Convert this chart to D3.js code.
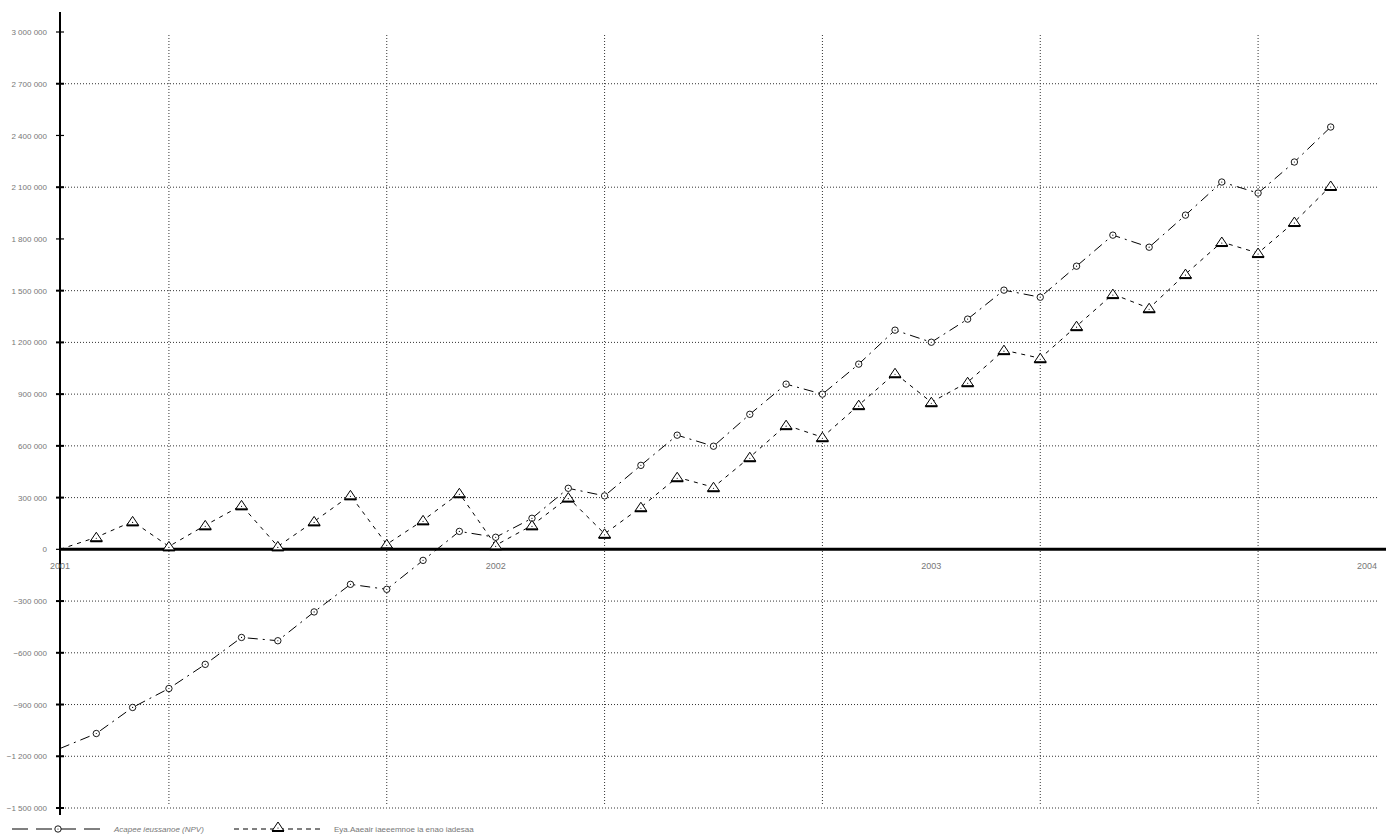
<!DOCTYPE html>
<html><head><meta charset="utf-8">
<script src="https://cdn.jsdelivr.net/npm/d3@7/dist/d3.min.js"></script>
<style>
body{margin:0;background:#fff;}
svg{display:block;}
text{font-family:"Liberation Sans Narrow","Liberation Sans",Arial,sans-serif;}
</style></head><body>
<svg id="c" width="1396" height="840"></svg>
<script>
// month index 0..35 (Jan 2001 .. Dec 2003)
const months = d3.range(36);
const seriesNames = ["Acapee ieussanoe (NPV)", "Eya.Aaeair iaeeemnoe ia enao iadesaa"];
const npv = [-1155000,-1068000,-917000,-807000,-667000,-511000,-530000,-363000,-203000,-232000,-64000,104000,
  70000,180000,354000,310000,487000,662000,598000,783000,958000,900000,1074000,1271000,
  1201000,1335000,1503000,1462000,1642000,1822000,1752000,1938000,2130000,2066000,2246000,2449000];
const equity = [0,70000,162000,17000,139000,255000,17000,162000,313000,29000,168000,325000,
  23000,139000,300000,90000,244000,418000,360000,534000,720000,650000,836000,1021000,
  853000,969000,1155000,1108000,1294000,1480000,1398000,1596000,1782000,1718000,1898000,2107000];
const yTicks = [3000000,2700000,2400000,2100000,1800000,1500000,1200000,900000,600000,300000,0,-300000,-600000,-900000,-1200000,-1500000];
const yGridTicks = [2700000,2100000,1500000,1200000,900000,600000,300000,-300000,-600000,-900000,-1200000,-1500000];
const xLabelTicks = [0,12,24,36];
const xLabels = ["2001","2002","2003","2004"];
const xGridTicks = [3,9,15,21,27,33];

const svg = d3.select("#c");
const x = d3.scaleLinear().domain([0,36]).range([60,1367]);
const y = d3.scaleLinear().domain([-1500000,3000000]).range([808,32]);
const fmt = v => d3.format(",")(v).replace(/,/g," ").replace("-","–");

// grid
svg.append("g").selectAll("line").data(yGridTicks).join("line")
  .attr("x1",62).attr("x2",1378).attr("y1",d=>y(d)).attr("y2",d=>y(d))
  .attr("stroke","#333").attr("stroke-width",1).attr("stroke-dasharray","1,2");
svg.append("g").selectAll("line").data(xGridTicks).join("line")
  .attr("x1",d=>x(d)).attr("x2",d=>x(d)).attr("y1",35).attr("y2",806)
  .attr("stroke","#333").attr("stroke-width",1).attr("stroke-dasharray","1,2");

// y axis
const yAxis = d3.axisLeft(y).tickValues(yTicks).tickSize(0).tickFormat(fmt);
const ga = svg.append("g").attr("transform","translate(60,0)").call(yAxis);
ga.select(".domain").remove();
ga.selectAll("text").attr("x",-13).attr("fill","#777").attr("font-size",8);
svg.append("line").attr("x1",60).attr("x2",60).attr("y1",12).attr("y2",815).attr("stroke","#000").attr("stroke-width",2);
svg.append("g").selectAll("line").data(yTicks).join("line")
  .attr("x1",56).attr("x2",64).attr("y1",d=>y(d)).attr("y2",d=>y(d))
  .attr("stroke","#000").attr("stroke-width",d=>yGridTicks.includes(d)?2:1.2);

// x axis (zero line)
svg.append("line").attr("x1",60).attr("x2",1386).attr("y1",y(0)).attr("y2",y(0)).attr("stroke","#000").attr("stroke-width",3);
svg.append("g").selectAll("text").data(xLabelTicks).join("text")
  .attr("x",d=>x(d)).attr("y",y(0)+20).attr("text-anchor","middle")
  .attr("fill","#777").attr("font-size",9).text((d,i)=>xLabels[i]);

// lines
const line = d3.line().x((d,i)=>x(months[i])).y(d=>y(d));
svg.append("path").datum(npv).attr("d",line).attr("fill","none").attr("stroke","#000")
  .attr("stroke-width",1).attr("stroke-dasharray","10,5,2,5");
svg.append("path").datum(equity).attr("d",line).attr("fill","none").attr("stroke","#000")
  .attr("stroke-width",1).attr("stroke-dasharray","4,5");

// markers
function circleMarker(g,cx,cy){
  g.append("circle").attr("cx",cx).attr("cy",cy).attr("r",3.2).attr("fill","#fff").attr("stroke","#000").attr("stroke-width",0.9);
  g.append("circle").attr("cx",cx).attr("cy",cy).attr("r",0.6).attr("fill","#000");
}
function triMarker(g,cx,cy){
  g.append("path").attr("d",`M${cx-6},${cy+4}L${cx},${cy-5}L${cx+6},${cy+4}Z`)
    .attr("fill","#fff").attr("stroke","#000").attr("stroke-width",1);
  g.append("line").attr("x1",cx-6).attr("x2",cx+6).attr("y1",cy+4).attr("y2",cy+4).attr("stroke","#000").attr("stroke-width",2);
  g.append("circle").attr("cx",cx).attr("cy",cy+1).attr("r",0.6).attr("fill","#000");
}
const gm = svg.append("g");
npv.forEach((v,i)=>{ if(i>0) circleMarker(gm,x(months[i]),y(v)); });
equity.forEach((v,i)=>{ if(i>0) triMarker(gm,x(months[i]),y(v)); });

// legend
const lg = svg.append("g");
const ly = 829;
lg.append("line").attr("x1",12).attr("x2",100).attr("y1",ly).attr("y2",ly).attr("stroke","#000").attr("stroke-dasharray","16,8");
circleMarker(lg,58,ly);
lg.append("text").attr("x",114).attr("y",ly+3).attr("fill","#777").attr("font-size",8).attr("font-style","italic").text(seriesNames[0]);
lg.append("line").attr("x1",234).attr("x2",324).attr("y1",ly).attr("y2",ly).attr("stroke","#000").attr("stroke-dasharray","5,4");
triMarker(lg,278,ly-2);
lg.append("text").attr("x",334).attr("y",ly+3).attr("fill","#777").attr("font-size",8).text(seriesNames[1]);
</script>
</body></html>
